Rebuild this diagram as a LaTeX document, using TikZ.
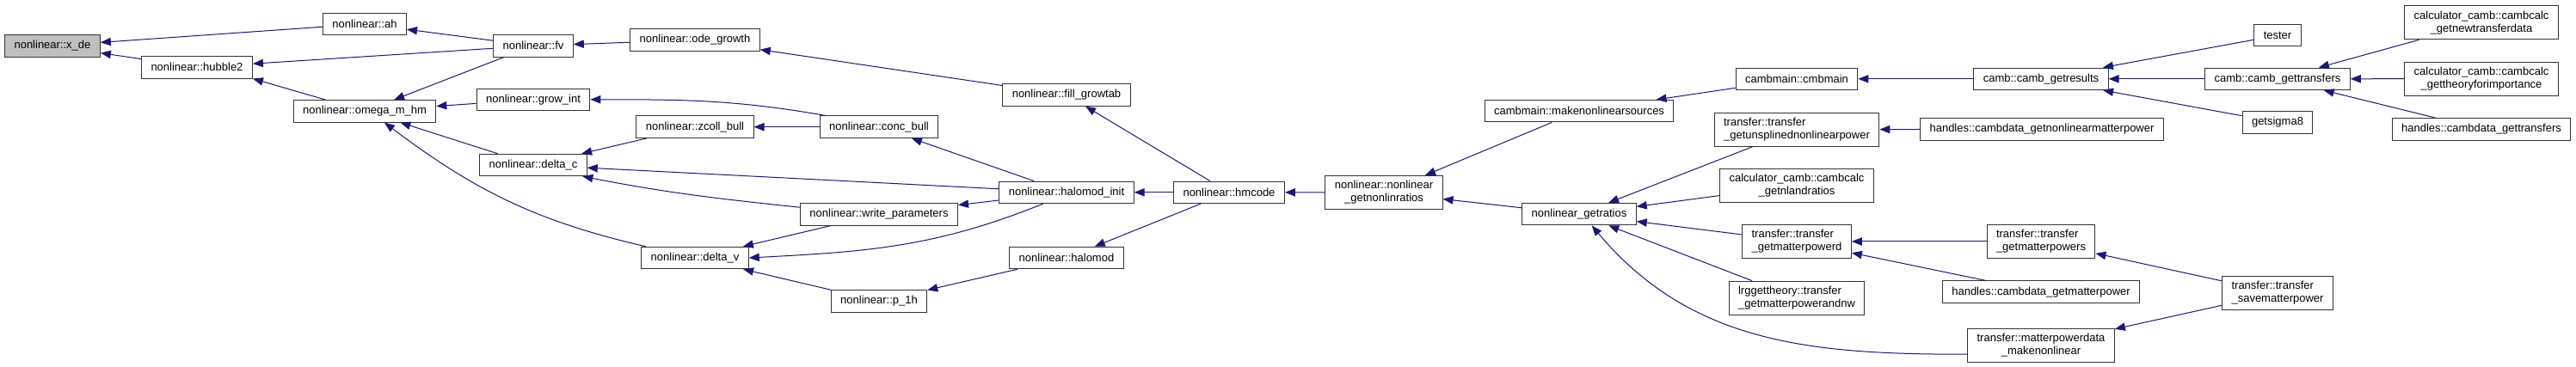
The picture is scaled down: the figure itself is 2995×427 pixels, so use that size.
\documentclass[tikz,border=0pt]{standalone}
\usepackage{fontspec}
\setmainfont{Liberation Sans}
\usetikzlibrary{arrows.meta}
\definecolor{edgeblue}{RGB}{25,25,112}

\begin{document}
\begin{tikzpicture}[x=0.75pt,y=-0.75pt,
    fn/.style={draw=black!80, line width=0.75pt, fill=white, inner xsep=8.2pt, inner ysep=4.5pt,
      minimum height=19.1pt, align=center, font=\fontsize{9.75pt}{11.25pt}\selectfont},
    fnl/.style={fn, align=left},
    calls/.style={draw=edgeblue, line width=0.75pt, -{Triangle[length=9pt,width=7pt]}}]
    \useasboundingbox (0,0) rectangle (2995,427);

    \node[fn,fill=black!25] (xde) at (61,53.3) {nonlinear::x\_de};
    \node[fn] (ah) at (424,27.8) {nonlinear::ah};
    \node[fn] (hubble) at (229,78.3) {nonlinear::hubble2};
    \node[fn] (omega) at (424,129.3) {nonlinear::omega\_m\_hm};
    \node[fn] (fv) at (620,53.3) {nonlinear::fv};
    \node[fn] (growint) at (620,115.8) {nonlinear::grow\_int};
    \node[fn] (deltac) at (620,192) {nonlinear::delta\_c};
    \node[fn] (odegrowth) at (808,46.5) {nonlinear::ode\_growth};
    \node[fn] (zcoll) at (808,147.7) {nonlinear::zcoll\_bull};
    \node[fn] (deltav) at (808,300) {nonlinear::delta\_v};
    \node[fn] (conc) at (1022,147.7) {nonlinear::conc\_bull};
    \node[fn] (writepar) at (1022,249.3) {nonlinear::write\_parameters};
    \node[fn] (ponehalo) at (1022,350.5) {nonlinear::p\_1h};
    \node[fn] (fillgrow) at (1240,110.5) {nonlinear::fill\_growtab};
    \node[fn] (hminit) at (1240,223.8) {nonlinear::halomod\_init};
    \node[fn] (halomod) at (1240,300) {nonlinear::halomod};
    \node[fn] (hmcode) at (1429,223.8) {nonlinear::hmcode};
    \node[fn] (nlratios) at (1609,224) {nonlinear::nonlinear\\\_getnonlinratios};
    \node[fn] (mksources) at (1836,129.2) {cambmain::makenonlinearsources};
    \node[fn] (getratios) at (1836,249.2) {nonlinear\_getratios};
    \node[fn] (cmbmain) at (2089,91.8) {cambmain::cmbmain};
    \node[fnl] (unspl) at (2089,150.7) {transfer::transfer\\\_getunsplinednonlinearpower};
    \node[fn] (calcnl) at (2089,215.7) {calculator\_camb::cambcalc\\\_getnlandratios};
    \node[fnl] (mpowerd) at (2089,281) {transfer::transfer\\\_getmatterpowerd};
    \node[fnl] (lrg) at (2089,346.7) {lrggettheory::transfer\\\_getmatterpowerandnw};
    \node[fn] (getresults) at (2373,91.8) {camb::camb\_getresults};
    \node[fn] (hnlpower) at (2374,150.3) {handles::cambdata\_getnonlinearmatterpower};
    \node[fnl] (mpowers) at (2373,281) {transfer::transfer\\\_getmatterpowers};
    \node[fn] (hmpower) at (2373,339.7) {handles::cambdata\_getmatterpower};
    \node[fn] (mkmpnl) at (2373,401.7) {transfer::matterpowerdata\\\_makenonlinear};
    \node[fn] (tester) at (2648,41.2) {tester};
    \node[fn] (gettrans) at (2648,91.8) {camb::camb\_gettransfers};
    \node[fn] (sigma) at (2648,142.3) {getsigma8};
    \node[fnl] (savemp) at (2648,341) {transfer::transfer\\\_savematterpower};
    \node[fn] (newtrans) at (2885,26.3) {calculator\_camb::cambcalc\\\_getnewtransferdata};
    \node[fn] (theory) at (2885,91.7) {calculator\_camb::cambcalc\\\_gettheoryforimportance};
    \node[fn] (htrans) at (2885,150.3) {handles::cambdata\_gettransfers};

    \draw[calls] (ah) -- (xde);
    \draw[calls] (hubble) -- (xde);
    \draw[calls] (fv) -- (ah);
    \draw[calls] (fv) -- (hubble);
    \draw[calls] (omega) -- (hubble.south east);
    \draw[calls] (fv) -- (omega);
    \draw[calls] (growint) -- (omega);
    \draw[calls] (deltac) -- (omega);
    \draw[calls] (deltav.167) to[out=167,in=-37] (omega.-30);
    \draw[calls] (odegrowth) -- (fv);
    \draw[calls] (conc.168) to[out=170,in=0] (growint.east);
    \draw[calls] (zcoll) -- (deltac);
    \draw[calls] (conc) -- (zcoll);
    \draw[calls] (hminit) -- (deltac);
    \draw[calls] (writepar.175) to[out=174,in=-11] (deltac.-13);
    \draw[calls] (writepar) -- (deltav);
    \draw[calls] (hminit.-154) to[out=-158,in=3] (deltav.east);
    \draw[calls] (ponehalo) -- (deltav);
    \draw[calls] (hminit) -- (conc);
    \draw[calls] (hminit) -- (writepar);
    \draw[calls] (fillgrow) -- (odegrowth);
    \draw[calls] (halomod) -- (ponehalo);
    \draw[calls] (hmcode) -- (fillgrow);
    \draw[calls] (hmcode) -- (hminit);
    \draw[calls] (hmcode) -- (halomod);
    \draw[calls] (nlratios) -- (hmcode);
    \draw[calls] (mksources) -- (nlratios);
    \draw[calls] (getratios) -- (nlratios);
    \draw[calls] (cmbmain) -- (mksources);
    \draw[calls] (getresults) -- (cmbmain);
    \draw[calls] (unspl) -- (getratios);
    \draw[calls] (calcnl) -- (getratios);
    \draw[calls] (mpowerd) -- (getratios);
    \draw[calls] (lrg) -- (getratios);
    \draw[calls] (mkmpnl.-173) to[out=180,in=-50] (getratios.-42);
    \draw[calls] (hnlpower) -- (unspl);
    \draw[calls] (mpowers) -- (mpowerd);
    \draw[calls] (hmpower) -- (mpowerd);
    \draw[calls] (savemp) -- (mpowers);
    \draw[calls] (savemp) -- (mkmpnl);
    \draw[calls] (tester) -- (getresults);
    \draw[calls] (gettrans) -- (getresults);
    \draw[calls] (sigma) -- (getresults);
    \draw[calls] (newtrans) -- (gettrans);
    \draw[calls] (theory) -- (gettrans);
    \draw[calls] (htrans) -- (gettrans);
\end{tikzpicture}
\end{document}
